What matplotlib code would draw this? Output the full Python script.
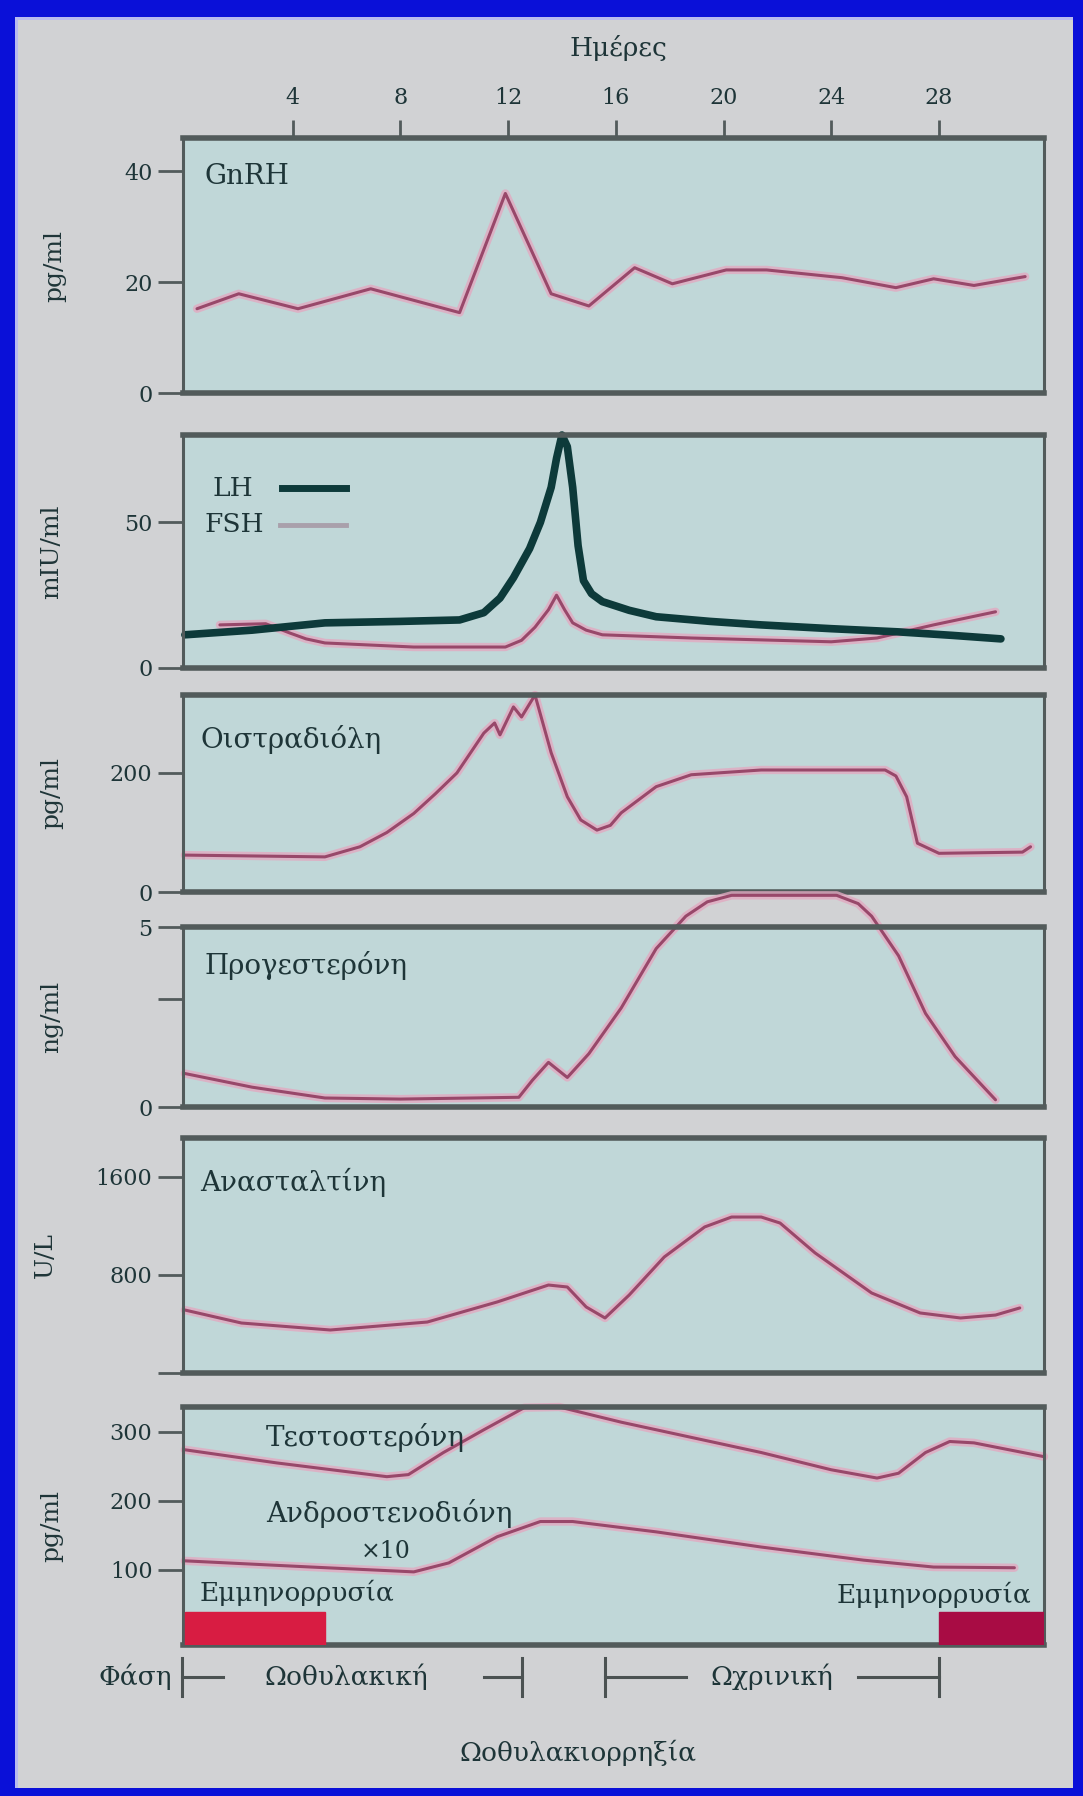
import matplotlib
matplotlib.use("Agg")
import matplotlib.pyplot as plt
import matplotlib.patheffects as pe
from matplotlib.patches import Rectangle

# --- data (ημέρες κύκλου / τιμές) ---
gnrh_day = [0.45, 2.0, 4.2, 6.9, 10.2, 11.9, 13.6, 15.0, 16.7, 18.1, 20.1, 21.6, 24.4, 26.4, 27.8, 29.3, 31.2]
gnrh_val = [15.2, 17.9, 15.2, 18.8, 14.5, 36.0, 17.9, 15.7, 22.6, 19.7, 22.2, 22.2, 20.8, 19.0, 20.6, 19.4, 21.0]

lh_day = [0.0, 2.5, 5.2, 8.0, 10.2, 11.1, 11.7, 12.2, 12.8, 13.2, 13.6, 13.8, 14.0, 14.2, 14.4, 14.6, 14.8, 15.1, 15.5, 16.5, 17.5, 19.5, 21.4, 24.0, 26.5, 28.5, 30.3]
lh_val = [11.4, 13.0, 15.5, 16.0, 16.5, 19.0, 24.0, 31.0, 41.0, 50.0, 62.0, 72.0, 80.0, 76.0, 62.0, 42.0, 30.0, 25.5, 22.8, 19.8, 17.6, 16.0, 14.8, 13.5, 12.4, 11.2, 10.0]

fsh_day = [1.3, 3.0, 3.9, 4.5, 5.2, 8.5, 11.9, 12.5, 13.0, 13.5, 13.8, 14.1, 14.4, 14.9, 15.5, 18.8, 24.0, 25.7, 27.8, 30.1]
fsh_val = [14.8, 15.2, 12.0, 10.0, 8.6, 7.2, 7.2, 9.5, 14.0, 20.0, 25.0, 20.0, 15.5, 13.0, 11.4, 10.3, 9.0, 10.3, 14.8, 19.3]

e2_day = [0.0, 5.2, 6.5, 7.5, 8.5, 9.3, 10.1, 11.1, 11.5, 11.7, 12.2, 12.5, 13.0, 13.6, 14.2, 14.7, 15.3, 15.8, 16.2, 17.5, 18.8, 21.4, 26.0, 26.4, 26.8, 27.2, 28.0, 31.1, 31.4]
e2_val = [62, 59, 76, 100, 132, 165, 200, 267, 284, 264, 311, 294, 331, 234, 160, 121, 104, 112, 133, 177, 197, 205, 205, 195, 160, 82, 65, 67, 76]

prog_day = [0.0, 2.5, 5.2, 8.0, 12.4, 12.9, 13.5, 14.2, 15.0, 16.2, 17.5, 18.6, 19.4, 20.3, 24.2, 25.0, 25.5, 26.5, 27.5, 28.6, 30.1]
prog_val = [0.93, 0.55, 0.25, 0.22, 0.27, 0.74, 1.24, 0.82, 1.48, 2.75, 4.4, 5.3, 5.7, 5.88, 5.88, 5.65, 5.3, 4.2, 2.6, 1.4, 0.2]

inh_day = [0.0, 2.1, 5.4, 9.0, 11.6, 13.5, 14.2, 14.9, 15.6, 16.5, 17.8, 19.3, 20.3, 21.4, 22.1, 23.4, 25.5, 27.3, 28.8, 30.1, 31.0]
inh_val = [514, 408, 351, 416, 580, 718, 702, 539, 449, 637, 947, 1192, 1273, 1273, 1224, 980, 653, 490, 449, 473, 531]

testo_day = [0.0, 3.4, 7.5, 8.3, 9.6, 11.1, 12.6, 13.9, 16.2, 21.4, 24.0, 25.7, 26.5, 27.5, 28.4, 29.3, 31.9]
testo_val = [274, 255, 235, 238, 270, 303, 335, 336, 314, 270, 245, 233, 240, 270, 286, 284, 264]

andro_day = [0.0, 4.7, 8.5, 9.8, 11.6, 13.2, 14.4, 17.5, 21.4, 25.2, 27.8, 30.8]
andro_val = [113, 104, 97, 110, 148, 170, 170, 155, 133, 114, 104, 103]

menses = [(0.0, 5.2), (28.0, 31.9)]
menses_colors = ["#d81c42", "#a80c44"]
phase_follicular = (0.0, 12.5)
phase_luteal = (15.6, 28.0)
ovulation_day = 14.6
top_ticks = [4, 8, 12, 16, 20, 24, 28]

# --- figure ---
W, H = 1083, 1796
L, R = 183, 1044
XLIM = (-0.07, 31.9)
fig = plt.figure(figsize=(W / 100, H / 100), dpi=100, facecolor="#d1d2d4")
plt.rcParams["font.family"] = ["DejaVu Serif"]

TXT = "#1e3538"
PANEL = "#c0d7d8"
SPINE = "#525b5b"
PINK = "#98486a"
halo = [pe.Stroke(linewidth=6, foreground="#e2a9c1", alpha=0.8), pe.Normal()]


def px(x):
    return x / W


def py(y):
    return 1 - y / H


# μπλε πλαίσιο (left, top, width, height σε px)
for x0, y0, w, h, c in [(0, 0, W, 17, "#0a10d8"), (0, H - 8, W, 8, "#0a10d8"),
                        (0, 0, 15, H, "#0a10d8"), (W - 10, 0, 10, H, "#0a10d8"),
                        (15, 17, W - 25, 3, "#b9bbef"), (15, 17, 3, H - 25, "#b9bbef")]:
    fig.patches.append(Rectangle((px(x0), py(y0 + h)), w / W, h / H, transform=fig.transFigure,
                                 color=c, zorder=10, lw=0))


def panel(top, bottom):
    ax = fig.add_axes([px(L), py(bottom), (R - L) / W, (bottom - top) / H])
    ax.set_facecolor(PANEL)
    ax.set_xlim(*XLIM)
    ax.set_xticks([])
    for s in ["left", "right"]:
        ax.spines[s].set_linewidth(2.2)
        ax.spines[s].set_color(SPINE)
    for s in ["top", "bottom"]:
        ax.spines[s].set_linewidth(4)
        ax.spines[s].set_color(SPINE)
    ax.tick_params(axis="y", direction="out", length=18, width=2, color=SPINE,
                   labelsize=16, labelcolor=TXT, pad=4)
    return ax


def ylab(text, x, top, bottom):
    fig.text(px(x), py((top + bottom) / 2), text, rotation=90, ha="center", va="center",
             fontsize=18, color=TXT)


def label(x, y, text, size=20, **kw):
    fig.text(px(x), py(y), text, fontsize=size, color=TXT, va="center", **kw)


def pink(ax, d, v, **kw):
    ax.plot(d, v, color=PINK, lw=2.2, path_effects=halo, clip_on=False, solid_capstyle="round", **kw)


# 1. GnRH
ax1 = panel(138, 393)
ax1.set_ylim(0, 46)
ax1.set_yticks([0, 20, 40])
pink(ax1, gnrh_day, gnrh_val)
ax1.xaxis.set_ticks_position("top")
ax1.set_xticks(top_ticks)
ax1.tick_params(axis="x", direction="out", length=13, width=2, color=SPINE,
                labelsize=16, labelcolor=TXT, pad=8)
label(205, 177, "GnRH")
ylab("pg/ml", 55, 138, 393)
label(618, 48, "Ημέρες", 19, ha="center")

# 2. LH / FSH
ax2 = panel(435, 668)
ax2.set_ylim(0, 80)
ax2.set_yticks([0, 50])
pink(ax2, fsh_day, fsh_val)
ax2.plot(lh_day, lh_val, color="#0d3a3a", lw=5.5, clip_on=False, solid_capstyle="round")
label(213, 488, "LH", 19)
label(204, 525, "FSH", 19)
fig.lines.append(plt.Line2D([px(282), px(346)], [py(488), py(488)], transform=fig.transFigure,
                            color="#0d3a3a", lw=5))
fig.lines.append(plt.Line2D([px(280), px(346)], [py(525), py(525)], transform=fig.transFigure,
                            color="#a9a0ab", lw=3.5))
ylab("mIU/ml", 52, 435, 668)

# 3. Οιστραδιόλη
ax3 = panel(695, 892)
ax3.set_ylim(0, 331)
ax3.set_yticks([0, 200])
pink(ax3, e2_day, e2_val)
label(200, 740, "Οιστραδιόλη")
ylab("pg/ml", 52, 695, 892)

# 4. Προγεστερόνη
ax4 = panel(927, 1107)
ax4.set_ylim(0, 5)
ax4.set_yticks([0, 3, 5])
ax4.set_yticklabels(["0", "", "5"])
pink(ax4, prog_day, prog_val)
label(204, 965, "Προγεστερόνη")
ylab("ng/ml", 52, 927, 1107)

# 5. Ανασταλτίνη
ax5 = panel(1138, 1373)
ax5.set_ylim(0, 1918)
ax5.set_yticks([0, 800, 1600])
ax5.set_yticklabels(["", "800", "1600"])
pink(ax5, inh_day, inh_val)
label(200, 1182, "Ανασταλτίνη")
ylab("U/L", 45, 1138, 1373)

# 6. Τεστοστερόνη / Ανδροστενοδιόνη
ax6 = panel(1407, 1645)
ax6.set_ylim(-9, 336)
ax6.set_yticks([100, 200, 300])
pink(ax6, testo_day, testo_val)
pink(ax6, andro_day, andro_val)
for (a, b), c in zip(menses, menses_colors):
    ax6.axvspan(a, b, ymin=0, ymax=0.14, color=c, zorder=3)
label(266, 1438, "Τεστοστερόνη")
label(266, 1513, "Ανδροστενοδιόνη")
label(386, 1552, "×10", 17, ha="center")
label(200, 1593, "Εμμηνορρυσία", 19)
label(1031, 1595, "Εμμηνορρυσία", 19, ha="right")
ylab("pg/ml", 52, 1407, 1645)

# φάσεις
axp = fig.add_axes([px(L), py(1710), (R - L) / W, 70 / H])
axp.set_xlim(*XLIM)
axp.set_ylim(0, 1)
axp.axis("off")
ym = 0.47
kw = dict(color="#4b5252", lw=2.2, clip_on=False)
f0, f1 = phase_follicular
l0, l1 = phase_luteal
axp.plot([f0 - 0.1, f0 - 0.1], [0.2, 0.75], **kw)
axp.plot([f0 - 0.1, 1.4], [ym, ym], **kw)
axp.plot([11.1, f1], [ym, ym], **kw)
axp.plot([f1, f1], [0.2, 0.75], **kw)
axp.plot([l0, l0], [0.2, 0.75], **kw)
axp.plot([l0, 18.6], [ym, ym], **kw)
axp.plot([25.0, l1], [ym, ym], **kw)
axp.plot([l1, l1], [0.2, 0.75], **kw)
axp.text(6.0, ym, "Ωοθυλακική", ha="center", va="center", fontsize=19, color=TXT)
axp.text(21.8, ym, "Ωχρινική", ha="center", va="center", fontsize=19, color=TXT)
label(172, 1677, "Φάση", 19, ha="right")
label(185 + ovulation_day * (R - L) / (XLIM[1] - XLIM[0]), 1753, "Ωοθυλακιορρηξία", 19, ha="center")

fig.savefig("out.png", dpi=100, facecolor=fig.get_facecolor())
